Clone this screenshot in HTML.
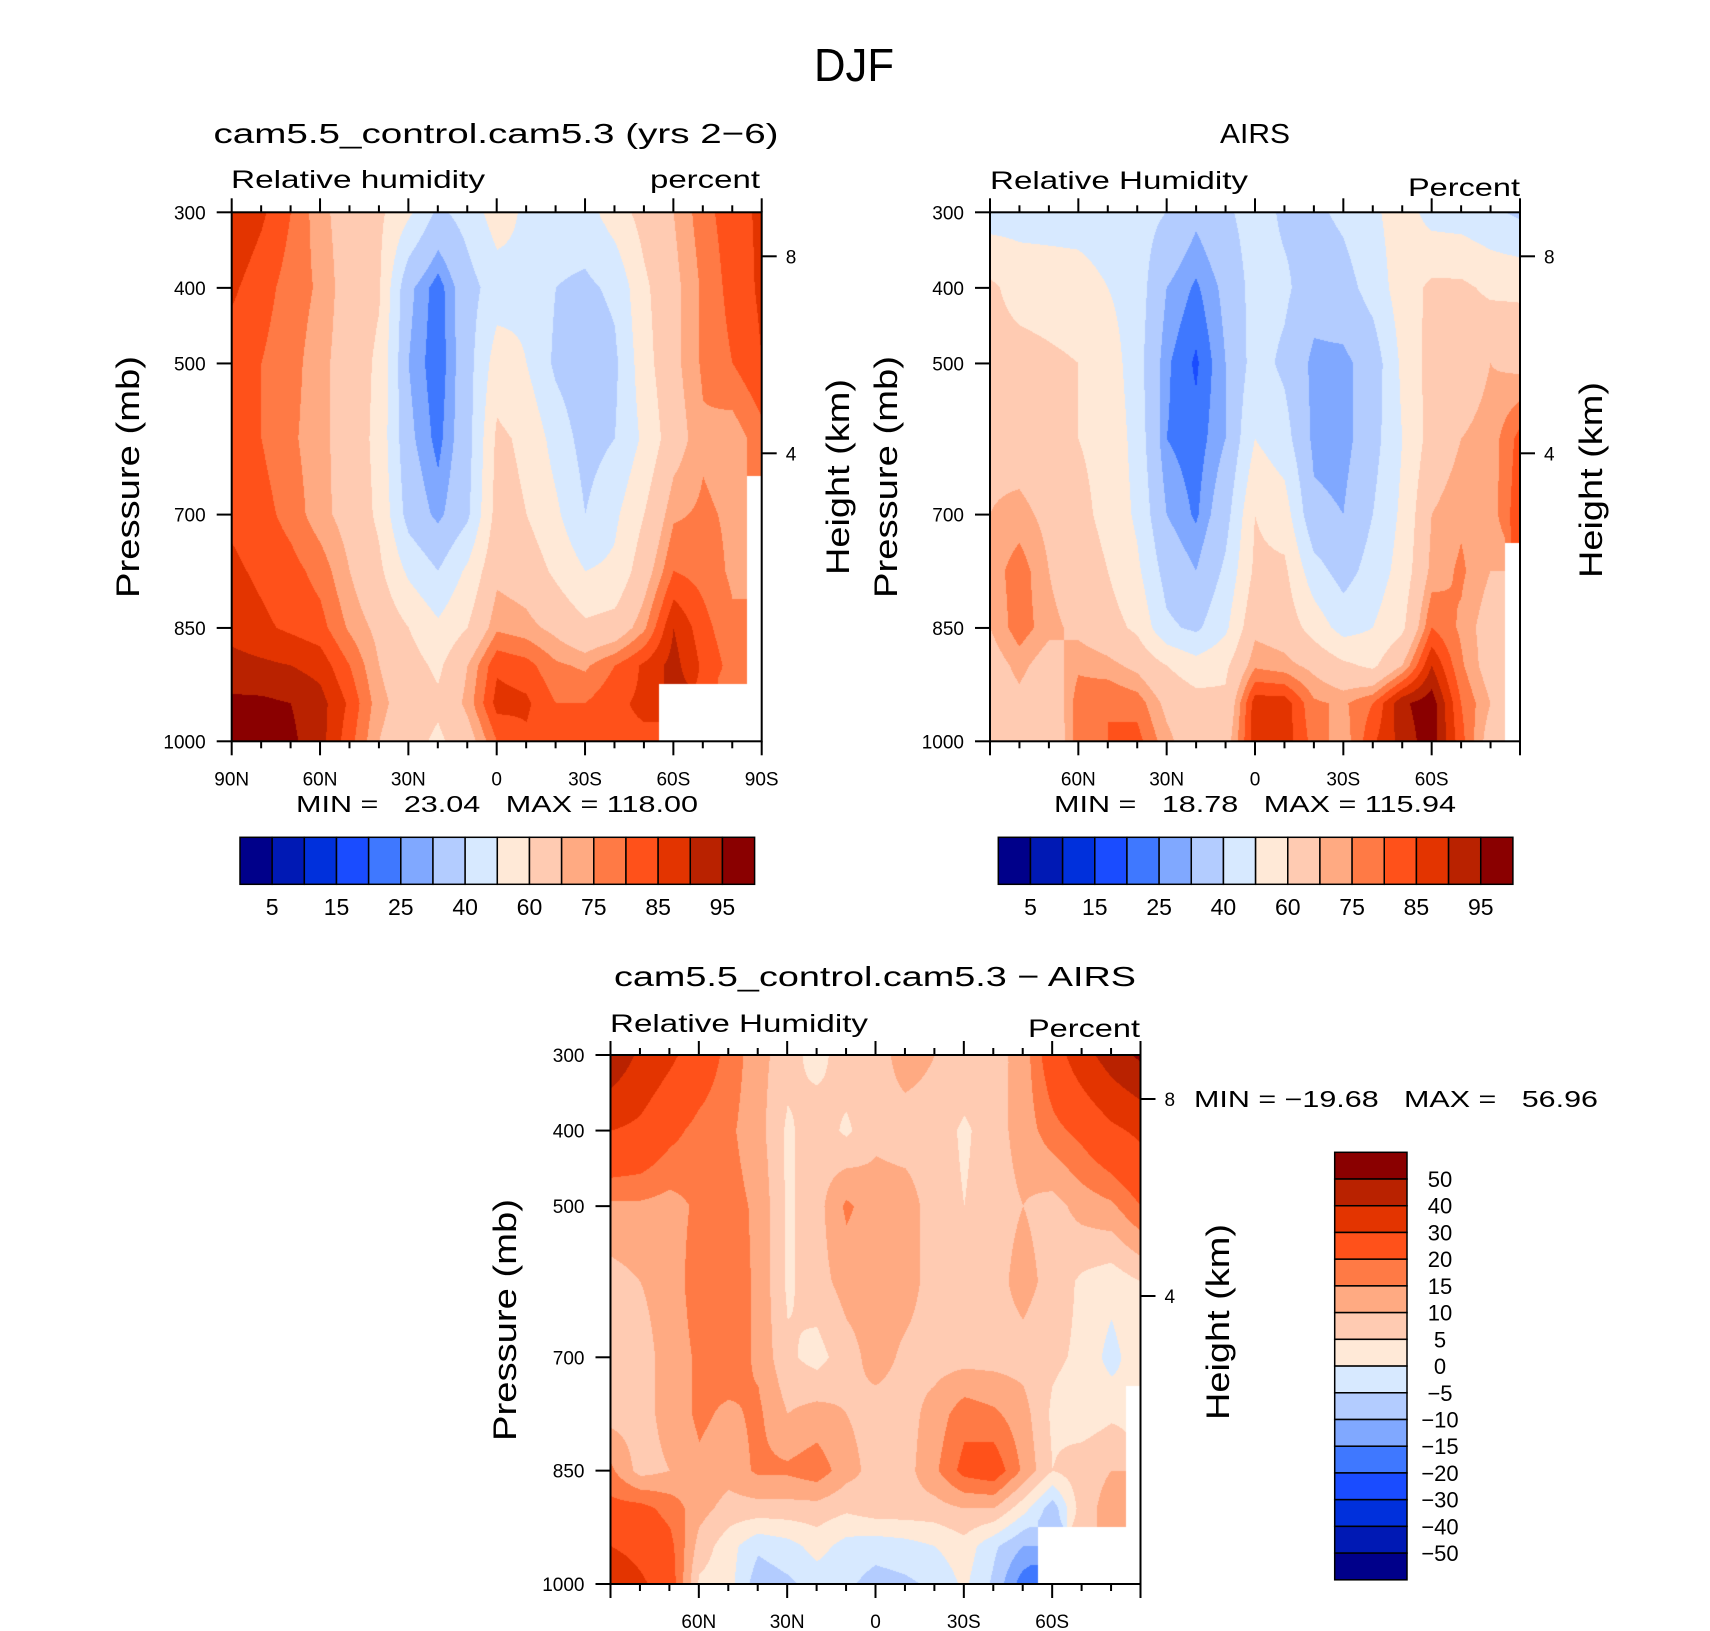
<!DOCTYPE html>
<html><head><meta charset="utf-8"><title>DJF Relative Humidity</title>
<style>
html,body{margin:0;padding:0;background:#fff;}
#root{position:relative;width:1710px;height:1631px;overflow:hidden;background:#fff;}
canvas{position:absolute;}
svg{position:absolute;left:0;top:0;}
text{font-family:"Liberation Sans",sans-serif;fill:#000;white-space:pre;}
</style></head>
<body>
<div id="root">
<canvas id="c1"></canvas>
<canvas id="c2"></canvas>
<canvas id="c3"></canvas>
<svg id="s" width="1710" height="1631" xmlns="http://www.w3.org/2000/svg"></svg>
</div>
<script>
// ---- data ----
const lats = [90,80,70,60,50,40,30,20,10,0,-10,-20,-30,-40,-50,-60,-70,-80,-90];
const levs = [300,400,500,600,700,775,850,900,950,1000];
const N = NaN;
const modelRH = [
 [90,86,80,72,66,62,52,38,44,55,48,45,46,55,64,70,78,83,86],
 [86,82,78,74,66,61,32,22,36,45,48,40,38,42,58,68,76,82,86],
 [82,80,77,72,66,58,30,21,36,55,50,38,33,38,56,68,76,80,85],
 [82,80,76,72,66,57,32,23,36,62,58,46,36,40,52,66,74,72,78],
 [84,82,78,72,67,58,36,28,38,64,60,52,40,48,60,74,76,74,N],
 [86,84,82,78,70,62,48,40,52,68,66,58,50,52,66,80,78,74,N],
 [88,86,84,82,74,68,60,52,60,74,72,68,62,64,74,90,82,76,N],
 [92,91,90,88,80,70,64,58,70,84,82,76,74,80,86,92,84,78,N],
 [96,96,95,92,84,72,66,62,72,87,86,80,80,84,86,N,N,N,N],
 [97,97,96,92,82,70,64,58,66,80,84,80,80,84,84,N,N,N,N]
];
const airsRH = [
 [45,46,46,46,45,44,40,32,38,45,38,38,42,48,55,46,45,42,38],
 [62,56,55,54,50,45,30,24,32,44,42,34,36,44,55,62,62,58,58],
 [64,64,62,60,56,44,26,19,30,44,38,28,28,34,52,64,66,70,68],
 [68,66,64,60,58,46,25,22,30,50,44,28,27,36,50,64,70,72,82],
 [70,72,68,62,58,48,30,24,36,60,55,32,30,40,52,70,74,72,84],
 [72,78,70,64,60,52,36,30,42,62,62,44,36,44,54,72,76,70,N],
 [70,78,72,68,64,58,42,38,48,68,66,56,46,50,58,80,74,66,N],
 [66,72,66,74,72,68,60,54,58,74,72,68,62,58,70,90,76,66,N],
 [64,68,62,78,80,78,68,64,62,88,88,76,74,80,94,98,80,70,N],
 [62,64,60,78,80,82,72,64,66,88,88,78,72,84,92,98,82,66,N]
];
const diffRH = [
 [48,38,32,25,18,12,7,3,8,8,12,10,9,8,12,25,36,45,52],
 [30,28,22,18,16,12,4,8,4,9,8,8,4,8,12,18,22,28,32],
 [14,14,13,16,17,14,4,8,16,12,12,8,5,8,10,8,12,14,20],
 [8,10,12,18,18,14,4,8,12,12,12,8,7,8,12,8,4,2,5],
 [8,8,12,16,18,14,6,3,8,12,9,8,8,8,8,6,4,-2,4],
 [8,8,12,16,14,16,10,12,10,8,8,12,18,16,12,4,2,4,N],
 [16,8,10,14,12,16,16,18,12,8,8,14,22,24,14,5,8,10,N],
 [22,22,18,12,8,8,8,8,6,8,8,8,10,10,2,-8,8,12,N],
 [30,26,22,8,2,-4,-2,2,-2,-3,-2,0,3,-4,-10,N,N,N,N],
 [40,32,24,4,2,-8,-6,-3,-4,-7,-6,-4,1,-6,-18,N,N,N,N]
];
const rhLevels = [5,10,15,20,25,30,40,50,60,70,75,80,85,90,95];
const diffLevels = [-50,-40,-30,-20,-15,-10,-5,0,5,10,15,20,30,40,50];
const rhLabels = ["5","15","25","40","60","75","85","95"];
const diffLabels = ["−50","−40","−30","−20","−15","−10","−5","0","5","10","15","20","30","40","50"];
const pressureTicks = [300,400,500,700,850,1000];
const colors = ['#00008a','#0019b4','#0030dc','#1a4cff','#3f78ff','#80a8ff','#b3ccff','#d7e9ff',
                '#ffe9d7','#ffcbb2','#ffaa82','#ff7a45','#ff511a','#e33400','#b92200','#8a0000'];

// ---- geometry ----
const W = 530, H = 529;
const panels = [
 {id:'c1', x:231.7, y:212.3, data:modelRH, lv:rhLevels, name:'model'},
 {id:'c2', x:990, y:212.3, data:airsRH, lv:rhLevels, name:'airs'},
 {id:'c3', x:610.5, y:1055, data:diffRH, lv:diffLevels, name:'diff'}
];
function xScale(P, lat){ return P.x + (90 - lat) / 180 * W; }
function yScale(P, p){ return P.y + (p - 300) / 700 * H; }
function hex(c){ return [parseInt(c.substr(1,2),16),parseInt(c.substr(3,2),16),parseInt(c.substr(5,2),16)]; }
const rgb = colors.map(hex);
function levelIndex(v, lv){ let k=0; while(k<lv.length && v>=lv[k]) k++; return k; }
function levPos(p){
  for(let j=0;j<levs.length-1;j++){ if(p<=levs[j+1]) return j + (p-levs[j])/(levs[j+1]-levs[j]); }
  return levs.length-1;
}
function drawField(P){
  const cv = document.getElementById(P.id);
  cv.width = W; cv.height = H;
  cv.style.left = P.x + 'px'; cv.style.top = P.y + 'px';
  const ctx = cv.getContext('2d');
  const img = ctx.createImageData(W, H);
  const d = P.data;
  for(let py=0; py<H; py++){
    const p = 300 + 700*(py+0.5)/H;
    const fj = levPos(p);
    const j0 = Math.min(Math.floor(fj), levs.length-2), tj = fj - j0;
    const jn = Math.round(fj);
    for(let px=0; px<W; px++){
      const lat = 90 - 180*(px+0.5)/W;
      const fi = (90 - lat)/10;
      const i0 = Math.min(Math.floor(fi), lats.length-2), ti = fi - i0;
      const inr = Math.round(fi);
      const o = (py*W+px)*4;
      const near = d[jn][inr];
      if(isNaN(near)){ img.data[o]=255;img.data[o+1]=255;img.data[o+2]=255;img.data[o+3]=255; continue; }
      let a=d[j0][i0], b=d[j0][i0+1], c=d[j0+1][i0], e=d[j0+1][i0+1];
      if(isNaN(a))a=near; if(isNaN(b))b=near; if(isNaN(c))c=near; if(isNaN(e))e=near;
      const v = (a*(1-ti)+b*ti)*(1-tj) + (c*(1-ti)+e*ti)*tj;
      const col = rgb[levelIndex(v, P.lv)];
      img.data[o]=col[0]; img.data[o+1]=col[1]; img.data[o+2]=col[2]; img.data[o+3]=255;
    }
  }
  ctx.putImageData(img,0,0);
}
panels.forEach(drawField);

// ---- svg overlay ----
const svg = document.getElementById('s');
const NS = 'http://www.w3.org/2000/svg';
function el(tag, attrs, parent){
  const e = document.createElementNS(NS, tag);
  for(const k in attrs) e.setAttribute(k, attrs[k]);
  (parent||svg).appendChild(e); return e;
}
function txt(str, x, y, size, anchor, extra){
  const t = el('text', Object.assign({x:x, y:y, 'font-size':size, 'text-anchor':anchor||'start'}, extra||{}));
  t.setAttribute('xml:space','preserve');
  t.textContent = str; return t;
}
const latTickLabels = {90:'90N',60:'60N',30:'30N',0:'0','-30':'30S','-60':'60S','-90':'90S'};

function axes(P, showEnds){
  const g = el('g', {});
  
  
  el('rect', {x:P.x, y:P.y, width:W, height:H, fill:'none', stroke:'#000', 'stroke-width':2}, g);
  for(let lat=90; lat>=-90; lat-=10){
    const x = xScale(P, lat), major = (lat % 30 === 0);
    el('line', {x1:x, y1:P.y, x2:x, y2:P.y-(major?14:7), stroke:'#000','stroke-width':2}, g);
    el('line', {x1:x, y1:P.y+H, x2:x, y2:P.y+H+(major?14:7), stroke:'#000','stroke-width':2}, g);
    if(major && (showEnds || Math.abs(lat)!==90)){
      const t = txt(latTickLabels[lat], x, P.y+H+44, 19, 'middle', {}); g.appendChild(t);
      
      
    }
  }
  pressureTicks.forEach(p=>{
    const y = yScale(P,p);
    el('line', {x1:P.x-15, y1:y, x2:P.x, y2:y, stroke:'#000','stroke-width':2}, g);
    const t = txt(String(p), P.x-26, y+7, 19, 'end', {}); g.appendChild(t);
    
    
  });
  [[8,44],[4,241]].forEach(h=>{
    const y = P.y + h[1];
    el('line', {x1:P.x+W, y1:y, x2:P.x+W+15, y2:y, stroke:'#000','stroke-width':2}, g);
    const t = txt(String(h[0]), P.x+W+24, y+7, 19, 'start', {}); g.appendChild(t);
    
    
  });
}
axes(panels[0], true); axes(panels[1], false); axes(panels[2], false);

function named(t, name){   return t; }
function rot(str, x, y, size, len, name){
  const t = txt(str, 0, 0, size, 'middle', {transform:'translate('+x+','+y+') rotate(-90)', textLength:len, lengthAdjust:'spacingAndGlyphs'});
  named(t, name);
}
named(txt('DJF', 854, 81, 46, 'middle', {textLength:80, lengthAdjust:'spacingAndGlyphs'}), 'figure-title');
named(txt('cam5.5_control.cam5.3 (yrs 2−6)', 496, 143, 28, 'middle', {textLength:565, lengthAdjust:'spacingAndGlyphs'}), 'model-title');
named(txt('Relative humidity', 231, 188, 25, 'start', {textLength:254, lengthAdjust:'spacingAndGlyphs'}), 'model-variable-label');
named(txt('percent', 760, 188, 25, 'end', {textLength:110, lengthAdjust:'spacingAndGlyphs'}), 'model-units-label');
rot('Pressure (mb)', 139, 477, 32, 242, 'model-y-axis-title');
rot('Height (km)', 849, 477, 32, 196, 'model-height-axis-title');
named(txt('MIN =   23.04   MAX = 118.00', 497, 812, 23, 'middle', {textLength:402, lengthAdjust:'spacingAndGlyphs'}), 'model-min-max');
named(txt('AIRS', 1255, 143, 28, 'middle', {textLength:70, lengthAdjust:'spacingAndGlyphs'}), 'airs-title');
named(txt('Relative Humidity', 990, 189, 25, 'start', {textLength:258, lengthAdjust:'spacingAndGlyphs'}), 'airs-variable-label');
named(txt('Percent', 1520, 196, 25, 'end', {textLength:112, lengthAdjust:'spacingAndGlyphs'}), 'airs-units-label');
rot('Pressure (mb)', 897, 477, 32, 242, 'airs-y-axis-title');
rot('Height (km)', 1602, 480, 32, 196, 'airs-height-axis-title');
named(txt('MIN =   18.78   MAX = 115.94', 1255, 812, 23, 'middle', {textLength:402, lengthAdjust:'spacingAndGlyphs'}), 'airs-min-max');
named(txt('cam5.5_control.cam5.3 − AIRS', 875, 986, 28, 'middle', {textLength:522, lengthAdjust:'spacingAndGlyphs'}), 'diff-title');
named(txt('Relative Humidity', 610, 1032, 25, 'start', {textLength:258, lengthAdjust:'spacingAndGlyphs'}), 'diff-variable-label');
named(txt('Percent', 1140, 1037, 25, 'end', {textLength:112, lengthAdjust:'spacingAndGlyphs'}), 'diff-units-label');
rot('Pressure (mb)', 516, 1320, 32, 242, 'diff-y-axis-title');
rot('Height (km)', 1229, 1322, 32, 196, 'diff-height-axis-title');
named(txt('MIN = −19.68   MAX =   56.96', 1598, 1107, 23, 'end', {textLength:404, lengthAdjust:'spacingAndGlyphs'}), 'diff-min-max');

function hbar(x0, x1, y0, y1, name){
  const g = el('g', {});
  
  
  const bw = (x1-x0)/colors.length;
  colors.forEach((c,i)=>{
    const r = el('rect', {x:x0+i*bw, y:y0, width:bw, height:y1-y0, fill:c, stroke:'#000', 'stroke-width':1.5}, g);
    
    
  });
  rhLabels.forEach((s,k)=>{
    const t = txt(s, x0 + (2*k+1)*bw, 915, 23, 'middle', {}); g.appendChild(t);
    
    
  });
}
hbar(240, 754.6, 837.3, 884.3, 'model-colorbar');
hbar(998.3, 1512.9, 837.3, 884.3, 'airs-colorbar');
(function(){
  const g = el('g', {});
  
  
  const x0=1334.7, x1=1407, y0=1152.3, bh=26.72;
  for(let i=0;i<colors.length;i++){
    const r = el('rect', {x:x0, y:y0+i*bh, width:x1-x0, height:bh, fill:colors[colors.length-1-i], stroke:'#000','stroke-width':1.5}, g);
    
    
  }
  for(let k=0;k<diffLabels.length;k++){
    const s = diffLabels[diffLabels.length-1-k];
    const t = txt(s, 1440, y0+(k+1)*bh+8, 22, 'middle', {}); g.appendChild(t);
    
    
  }
})();
</script>
</body></html>
